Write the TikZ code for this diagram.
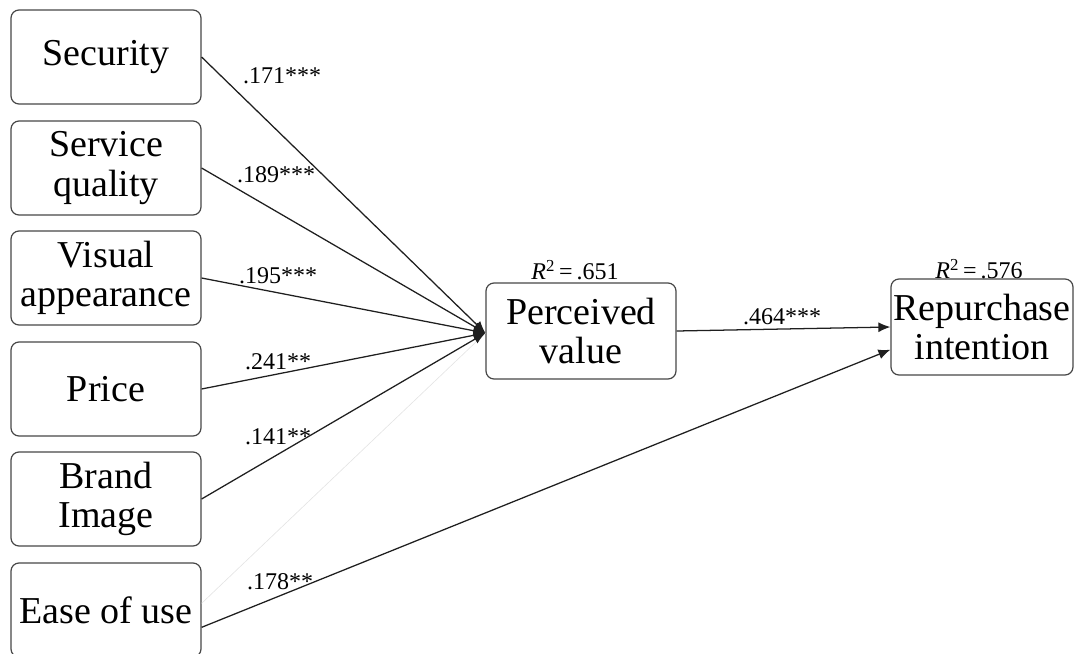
\documentclass[tikz,border=0pt]{standalone}
\usepackage{fontspec}
\setmainfont{Liberation Serif}
\usetikzlibrary{arrows.meta}
\begin{document}
\begin{tikzpicture}[x=0.75pt,y=-0.75pt,
  construct/.style={draw=black!72,line width=0.9pt,rounded corners=6pt,
    align=center,inner sep=0pt,minimum width=142.5pt,minimum height=70.5pt,
    font=\fontsize{28.5}{29.5}\selectfont},
  coef/.style={font=\fontsize{18}{20}\selectfont,inner sep=0pt},
  path/.style={line width=0.95pt,draw=black!88,-{Latex[length=9pt,width=7.5pt]}}]
\useasboundingbox (0,0) rectangle (1076,654);

% exogenous constructs
\node[construct] (sec) at (106,57)  {Security};
\node[construct] (sq)  at (106,168) {Service\\quality};
\node[construct] (va)  at (106,278) {Visual\\appearance};
\node[construct] (pr)  at (106,389) {Price};
\node[construct] (bi)  at (106,499) {Brand\\Image};
\node[construct] (eu)  at (106,610) {Ease of use};

% mediator and outcome
\node[construct,minimum height=72pt] (pv) at (581,331) {Perceived\\value};
\node[construct,minimum width=136.5pt,minimum height=72pt] (ri) at (982,327) {Repurchase\\intention};

% explained variance
\node[coef] (r2pv) at (575,270) {\textit{R}\textsuperscript{2}\,=\,.651};
\node[coef] (r2ri) at (979,269) {\textit{R}\textsuperscript{2}\,=\,.576};

% path coefficients
\node[coef] (c1) at (282,76)  {.171***};
\node[coef] (c2) at (276,175) {.189***};
\node[coef] (c3) at (278,276) {.195***};
\node[coef] (c4) at (278,362) {.241**};
\node[coef] (c5) at (278,437) {.141**};
\node[coef] (c6) at (280,582) {.178**};
\node[coef] (c7) at (782,317) {.464***};

% anchor points
\coordinate (pvin) at ([yshift=-1.5pt]pv.west);
\coordinate (euup) at ([yshift=5pt]eu.east);
\coordinate (eulo) at ([yshift=-13pt]eu.east);
\coordinate (rilo) at ([yshift=-17pt]ri.west);

% non-significant path, barely visible
\draw[black!10,line width=0.5pt] (euup) -- (pvin);

% structural paths
\draw[path] (sec.east) -- (pvin);
\draw[path] (sq.east)  -- (pvin);
\draw[path] (va.east)  -- (pvin);
\draw[path] (pr.east)  -- (pvin);
\draw[path] (bi.east)  -- (pvin);
\draw[path] (pv.east)  -- (ri.west);
\draw[path] (eulo)     -- (rilo);
\end{tikzpicture}
\end{document}
